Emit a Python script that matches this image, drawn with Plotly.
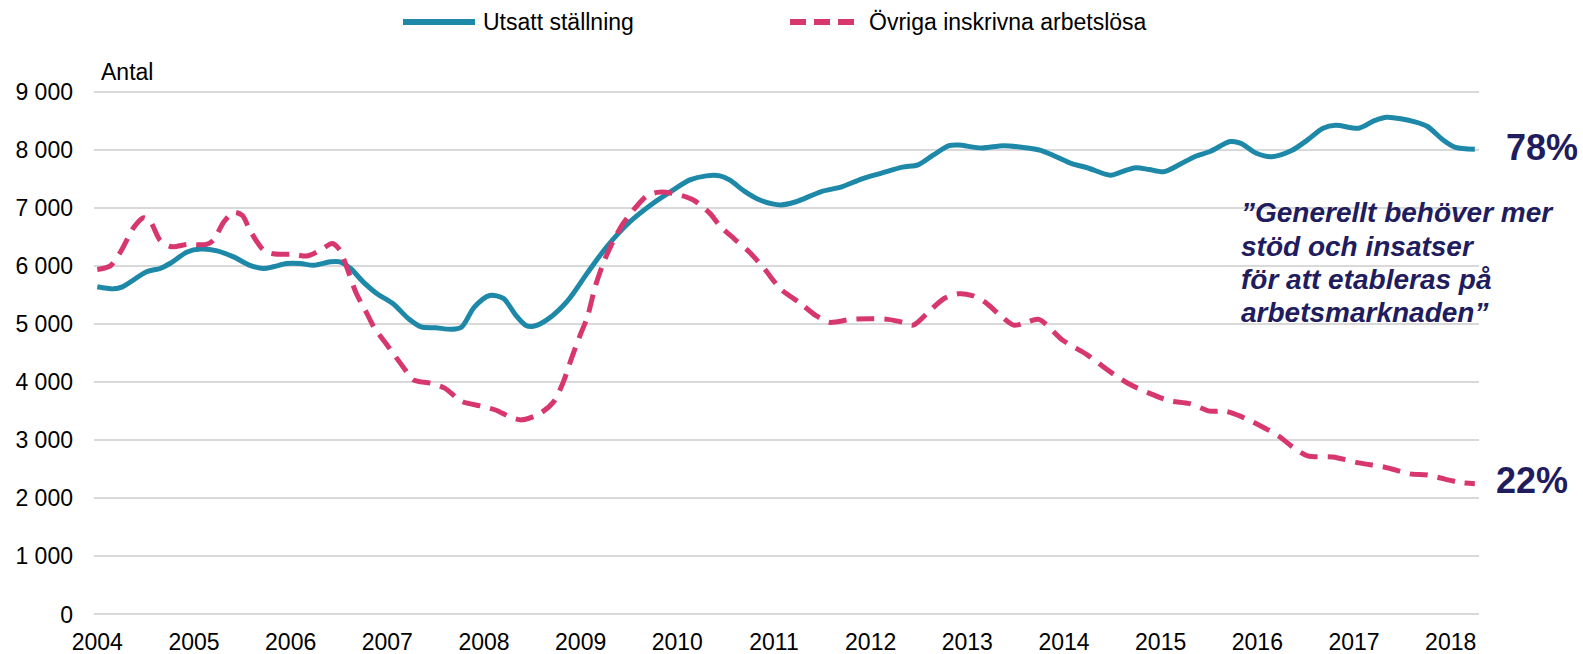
import plotly.graph_objects as go

# ---------------- data ----------------
utsatt_x = [2004.00, 2004.17, 2004.26, 2004.51, 2004.65, 2004.76, 2004.93, 2005.07, 2005.24, 2005.41,
            2005.58, 2005.72, 2005.82, 2005.96, 2006.10, 2006.24, 2006.41, 2006.51, 2006.62, 2006.75,
            2006.89, 2007.06, 2007.22, 2007.35, 2007.50, 2007.67, 2007.77, 2007.90, 2008.06, 2008.20,
            2008.33, 2008.43, 2008.51, 2008.65, 2008.86, 2009.07, 2009.27, 2009.51, 2009.75, 2009.96,
            2010.13, 2010.30, 2010.44, 2010.54, 2010.70, 2010.86, 2011.07, 2011.22, 2011.49, 2011.70,
            2011.91, 2012.12, 2012.33, 2012.49, 2012.65, 2012.81, 2012.91, 2013.15, 2013.37, 2013.58,
            2013.76, 2013.92, 2014.08, 2014.24, 2014.48, 2014.58, 2014.74, 2014.88, 2015.03, 2015.19,
            2015.35, 2015.51, 2015.72, 2015.83, 2015.99, 2016.15, 2016.36, 2016.52, 2016.68, 2016.81,
            2017.05, 2017.21, 2017.34, 2017.63, 2017.76, 2017.92, 2018.05, 2018.25]
utsatt_y = [5640, 5605, 5640, 5900, 5955, 6050, 6240, 6290, 6260, 6155,
            6010, 5955, 5985, 6040, 6040, 6010, 6070, 6070, 5955, 5725,
            5525, 5350, 5090, 4950, 4935, 4910, 4950, 5290, 5490, 5440,
            5150, 4980, 4960, 5070, 5390, 5880, 6330, 6760, 7080, 7310,
            7480, 7550, 7550, 7480, 7280, 7130, 7050, 7100, 7280, 7360,
            7500, 7600, 7700, 7740, 7910, 8070, 8080, 8030, 8070, 8040,
            7990, 7880, 7760, 7690, 7560, 7610, 7690, 7660, 7620, 7740,
            7880, 7970, 8140, 8110, 7940, 7880, 7990, 8170, 8370, 8420,
            8370, 8500, 8560, 8480, 8400, 8170, 8040, 8010]

ovriga_x = [2004.00, 2004.13, 2004.24, 2004.38, 2004.48, 2004.55, 2004.65, 2004.77, 2004.93, 2005.13,
            2005.20, 2005.31, 2005.41, 2005.50, 2005.58, 2005.72, 2005.82, 2006.03, 2006.17, 2006.31,
            2006.43, 2006.51, 2006.58, 2006.68, 2006.79, 2006.86, 2007.01, 2007.16, 2007.27, 2007.45,
            2007.59, 2007.77, 2007.96, 2008.12, 2008.27, 2008.39, 2008.58, 2008.72, 2008.82, 2008.91,
            2009.00, 2009.07, 2009.15, 2009.24, 2009.34, 2009.44, 2009.57, 2009.69, 2009.82, 2010.00,
            2010.17, 2010.34, 2010.44, 2010.60, 2010.75, 2010.91, 2011.07, 2011.27, 2011.43, 2011.57,
            2011.80, 2012.02, 2012.18, 2012.33, 2012.44, 2012.60, 2012.76, 2012.91, 2013.05, 2013.18,
            2013.34, 2013.48, 2013.61, 2013.74, 2013.98, 2014.24, 2014.45, 2014.66, 2014.88, 2015.09,
            2015.30, 2015.51, 2015.67, 2015.83, 2016.04, 2016.23, 2016.36, 2016.52, 2016.78, 2017.05,
            2017.31, 2017.58, 2017.76, 2017.94, 2018.10, 2018.25]
ovriga_y = [5940, 5995, 6240, 6670, 6830, 6760, 6440, 6330, 6370, 6370,
            6440, 6760, 6920, 6870, 6610, 6270, 6210, 6200, 6170, 6270,
            6385, 6270, 5980, 5525, 5180, 4950, 4610, 4270, 4040, 3980,
            3900, 3670, 3590, 3520, 3400, 3350, 3460, 3660, 4000, 4430,
            4830, 5120, 5640, 6070, 6440, 6730, 7010, 7210, 7270, 7230,
            7130, 6900, 6690, 6450, 6230, 5930, 5600, 5360, 5150, 5030,
            5080, 5090, 5080, 5030, 4980, 5210, 5440, 5520, 5490, 5380,
            5150, 4980, 5030, 5080, 4730, 4470, 4210, 3980, 3810, 3680,
            3630, 3500, 3500, 3410, 3240, 3060, 2890, 2730, 2710, 2610,
            2540, 2420, 2400, 2330, 2270, 2250]

year_ticks = list(range(2004, 2019))
year_labels = [str(y) for y in year_ticks]
y_ticks = [0, 1000, 2000, 3000, 4000, 5000, 6000, 7000, 8000, 9000]
y_labels = ["0", "1 000", "2 000", "3 000", "4 000", "5 000", "6 000", "7 000", "8 000", "9 000"]

series_names = ["Utsatt ställning", "Övriga inskrivna arbetslösa"]
end_labels = ["78%", "22%"]
quote_lines = ["”Generellt behöver mer", "stöd och insatser", "för att etableras på", "arbetsmarknaden”"]

# ---------------- style ----------------
W, H = 1583, 654
ML, MR, MT, MB = 94, 104, 90, 38
PW, PH = W - ML - MR, H - MT - MB
TEAL = "#1E88A8"
PINK = "#D7366F"
NAVY = "#211C5E"
FONT = "Liberation Sans, Arial, sans-serif"


def px(xp):
    return (xp - ML) / PW


def py(yp):
    return (H - MB - yp) / PH


fig = go.Figure()
fig.add_trace(go.Scatter(x=utsatt_x, y=utsatt_y, mode="lines", name=series_names[0],
                         line=dict(color=TEAL, width=5, shape="spline", smoothing=0.8),
                         showlegend=False))
fig.add_trace(go.Scatter(x=ovriga_x, y=ovriga_y, mode="lines", name=series_names[1],
                         line=dict(color=PINK, width=5, dash="18px,10px", shape="spline", smoothing=0.8),
                         showlegend=False))

fig.update_layout(
    width=W, height=H,
    margin=dict(l=ML, r=MR, t=MT, b=MB, autoexpand=False),
    paper_bgcolor="white", plot_bgcolor="white",
    font=dict(family=FONT, size=23, color="black"),
    xaxis=dict(range=[2003.966, 2018.293], tickvals=year_ticks, ticktext=year_labels,
               showgrid=False, zeroline=False, showline=False, ticks="",
               ticklabelstandoff=10, tickfont=dict(size=23)),
    yaxis=dict(range=[-26, 9028], tickvals=y_ticks, ticktext=y_labels,
               showgrid=True, gridcolor="#D9D9D9", gridwidth=2, zeroline=False,
               showline=False, ticks="", ticklabelstandoff=20, tickfont=dict(size=23)),
)

shapes = [
    dict(type="line", xref="paper", yref="paper", x0=px(403), x1=px(475), y0=py(22), y1=py(22),
         line=dict(color=TEAL, width=6)),
    dict(type="line", xref="paper", yref="paper", x0=px(790), x1=px(856), y0=py(22), y1=py(22),
         line=dict(color=PINK, width=6, dash="16px,8px")),
]
fig.update_layout(shapes=shapes)

ann = []
ann.append(dict(text=series_names[0], x=px(481), y=py(22), xref="paper", yref="paper",
                xanchor="left", yanchor="middle", showarrow=False, font=dict(size=23, color="black")))
ann.append(dict(text=series_names[1], x=px(867), y=py(22), xref="paper", yref="paper",
                xanchor="left", yanchor="middle", showarrow=False, font=dict(size=23, color="black")))
ann.append(dict(text="Antal", x=px(99), y=py(72), xref="paper", yref="paper",
                xanchor="left", yanchor="middle", showarrow=False, font=dict(size=23, color="black")))
ann.append(dict(text="<b>" + end_labels[0] + "</b>", x=px(1504), y=py(147), xref="paper", yref="paper",
                xanchor="left", yanchor="middle", showarrow=False, font=dict(size=36, color=NAVY)))
ann.append(dict(text="<b>" + end_labels[1] + "</b>", x=px(1494), y=py(480), xref="paper", yref="paper",
                xanchor="left", yanchor="middle", showarrow=False, font=dict(size=36, color=NAVY)))
for i, (line, yc) in enumerate(zip(quote_lines, [212, 246, 279, 312])):
    ann.append(dict(text="<b><i>" + line + "</i></b>", x=px(1239), y=py(yc), xref="paper", yref="paper",
                    xanchor="left", yanchor="middle", showarrow=False, font=dict(size=28, color=NAVY)))
fig.update_layout(annotations=ann)

fig.write_html("out.html", config={"displayModeBar": False},
               post_script="document.body.style.margin='0';document.body.style.padding='0';")
